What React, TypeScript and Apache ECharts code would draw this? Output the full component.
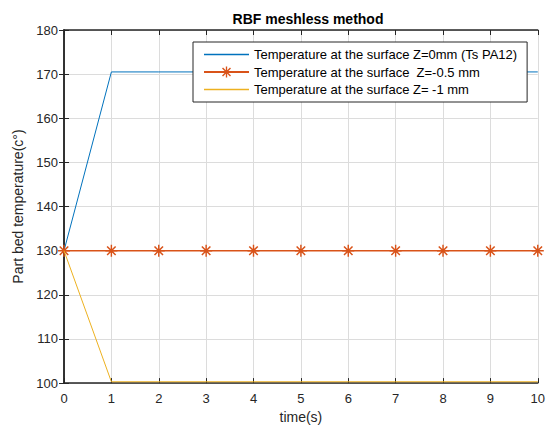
import React, { useEffect, useRef } from "react";
import * as echarts from "echarts";

const times = [0, 1, 2, 3, 4, 5, 6, 7, 8, 9, 10];
const surface0 = [130, 170.5, 170.5, 170.5, 170.5, 170.5, 170.5, 170.5, 170.5, 170.5, 170.5];
const surface05 = [130, 130, 130, 130, 130, 130, 130, 130, 130, 130, 130];
const surface1 = [130, 100.3, 100.3, 100.3, 100.3, 100.3, 100.3, 100.3, 100.3, 100.3, 100.3];
const seriesNames = [
  "Temperature at the surface Z=0mm (Ts PA12)",
  "Temperature at the surface  Z=-0.5 mm",
  "Temperature at the surface Z= -1 mm",
];

const asterisk =
  "path://M0 4.4L10 4.4L10 5.6L0 5.6ZM4.4 0L5.6 0L5.6 10L4.4 10ZM1.0 1.9L1.9 1.0L9.0 8.1L8.1 9.0ZM8.1 1.0L9.0 1.9L1.9 9.0L1.0 8.1Z";
const lineIcon = "path://M0 0L45 0L45 1.5L0 1.5Z";

const FONT = "Arial, 'Liberation Sans', Helvetica, sans-serif";
const AX = "#262626";

export default function App() {
  const ref = useRef<HTMLDivElement>(null);
  useEffect(() => {
    const chart = echarts.init(ref.current!, null, { renderer: "svg" });
    const pairs = (ys: number[]) => times.map((t, i) => [t, ys[i]]);
    const xBase = {
      type: "value" as const,
      min: 0,
      max: 10,
      interval: 1,
      splitLine: { show: false },
    };
    const yBase = {
      type: "value" as const,
      min: 100,
      max: 180,
      interval: 10,
      splitLine: { show: false },
    };
    chart.setOption({
      animation: false,
      backgroundColor: "#ffffff",
      title: {
        text: "RBF meshless method",
        left: 303,
        textAlign: "center",
        top: 7,
        textStyle: { fontFamily: FONT, fontSize: 14, fontWeight: "bold", color: "#000" },
      },
      grid: { left: 64, right: 7, top: 30, bottom: 44, containLabel: false },
      legend: {
        orient: "vertical",
        left: 193,
        top: 42,
        padding: [6, 10, 6, 10],
        itemWidth: 45,
        itemHeight: 14,
        itemGap: 4.5,
        symbolKeepAspect: true,
        backgroundColor: "#ffffff",
        borderColor: AX,
        borderWidth: 1,
        borderRadius: 0,
        textStyle: { fontFamily: FONT, fontSize: 13, color: "#000" },
        data: [
          { name: seriesNames[0], icon: lineIcon },
          { name: seriesNames[1] },
          { name: seriesNames[2], icon: lineIcon },
        ],
      },
      xAxis: [
        {
          ...xBase,
          position: "bottom",
          name: "time(s)",
          nameLocation: "middle",
          nameGap: 25,
          nameTextStyle: { fontFamily: FONT, fontSize: 14, color: AX },
          axisLine: { lineStyle: { color: AX, width: 1.5 } },
          axisTick: { inside: true, length: 5, lineStyle: { color: AX } },
          axisLabel: { fontFamily: FONT, fontSize: 13, color: AX, margin: 9 },
          splitLine: { show: true, lineStyle: { color: "#dcdcdc", width: 1 } },
        },
        {
          ...xBase,
          position: "top",
          axisLine: { lineStyle: { color: AX, width: 1.5 } },
          axisTick: { inside: true, length: 5, lineStyle: { color: AX } },
          axisLabel: { show: false },
        },
      ],
      yAxis: [
        {
          ...yBase,
          position: "left",
          name: "Part bed temperature(c°)",
          nameLocation: "middle",
          nameGap: 34,
          nameTextStyle: { fontFamily: FONT, fontSize: 14, color: AX },
          axisLine: { lineStyle: { color: AX, width: 1.5 } },
          axisTick: { inside: true, length: 5, lineStyle: { color: AX } },
          axisLabel: { fontFamily: FONT, fontSize: 13, color: AX, margin: 6 },
          splitLine: { show: true, lineStyle: { color: "#dcdcdc", width: 1 } },
        },
        {
          ...yBase,
          position: "right",
          axisLine: { lineStyle: { color: AX, width: 1.5 } },
          axisTick: { inside: true, length: 5, lineStyle: { color: AX } },
          axisLabel: { show: false },
        },
      ],
      series: [
        {
          name: seriesNames[0],
          type: "line",
          data: pairs(surface0),
          showSymbol: false,
          lineStyle: { color: "#0072BD", width: 1 },
          itemStyle: { color: "#0072BD" },
          z: 3,
        },
        {
          name: seriesNames[1],
          type: "line",
          data: pairs(surface05),
          symbol: asterisk,
          symbolSize: 12,
          lineStyle: { color: "#D95319", width: 1.5 },
          itemStyle: { color: "#D95319" },
          z: 4,
        },
        {
          name: seriesNames[2],
          type: "line",
          data: pairs(surface1),
          showSymbol: false,
          lineStyle: { color: "#EDB120", width: 1 },
          itemStyle: { color: "#EDB120" },
          z: 5,
        },
      ],
    });
    return () => chart.dispose();
  }, []);
  return <div ref={ref} style={{ width: 548, height: 429, position: "absolute", left: 0, top: 0 }} />;
}
